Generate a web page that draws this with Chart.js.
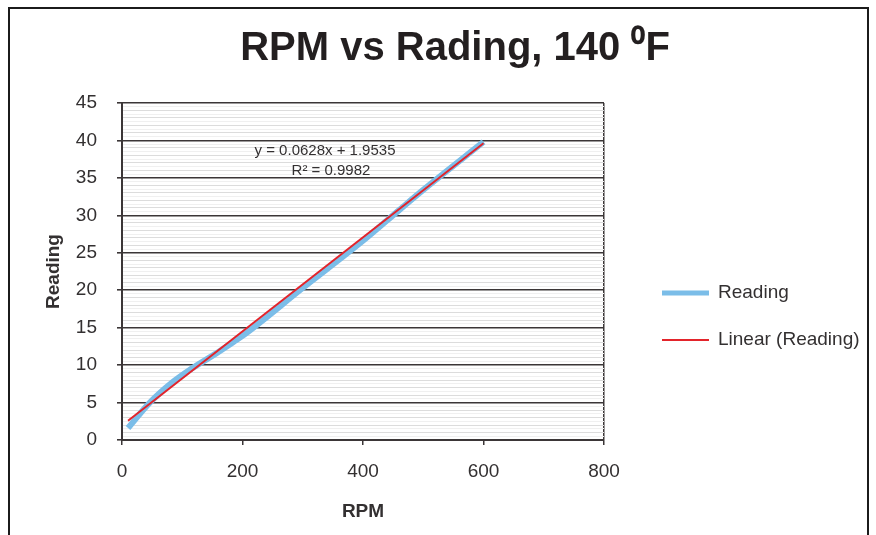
<!DOCTYPE html>
<html>
<head>
<meta charset="utf-8">
<title>RPM vs Reading</title>
<script src="https://cdn.jsdelivr.net/npm/chart.js@4.4.1/dist/chart.umd.min.js"></script>
<style>
  html, body { margin: 0; padding: 0; background: #fff; }
  #wrap { position: relative; width: 876px; height: 535px; overflow: hidden; }
  #frame { position: absolute; left: 8px; top: 7px; width: 857px; height: 600px; border: 2px solid #1b1b1b; pointer-events: none; }
</style>
</head>
<body>
<div id="wrap">
  <canvas id="rpmChart" width="876" height="535"></canvas>
  <div id="frame"></div>
</div>
<script>
// measured readings
var rpm = [10, 45, 82, 115, 155, 185, 200, 300, 400, 460, 500, 600];
var reading = [1.6, 4.9, 7.6, 9.5, 11.5, 13.1, 13.9, 20.3, 26.6, 30.7, 33.4, 39.8];

// linear fit shown on the chart
var trendSlope = 0.0628;
var trendIntercept = 1.9535;
var rSquared = 0.9982;

var seriesLabels = ['Reading', 'Linear (Reading)'];
var xTicks = [0, 200, 400, 600, 800];

var DARK = '#3b3637';
var TEXT = '#333031';
var FONT = "'Liberation Sans', Arial, sans-serif";

var readingPoints = rpm.map(function (x, i) { return { x: x, y: reading[i] }; });
var xFirst = rpm[0], xLast = rpm[rpm.length - 1];
var trendPoints = [
    { x: xFirst, y: trendSlope * xFirst + trendIntercept },
    { x: xLast, y: trendSlope * xLast + trendIntercept }
];

function isMajor(v) { return Math.abs(v / 5 - Math.round(v / 5)) < 1e-6; }
function isWhole(v) { return Math.abs(v - Math.round(v)) < 1e-6; }

// legend on the right plus the fit equation inside the plot
var extrasPlugin = {
    id: 'extras',
    afterLayout: function (chart) {
        // heading is centred over the whole frame, not just the plot side
        chart.titleBlock.left = 34;
        chart.titleBlock.right = chart.width;
    },
    afterDraw: function (chart) {
        var ctx = chart.ctx;
        var area = chart.chartArea;
        ctx.save();

        // equation + R²
        ctx.fillStyle = TEXT;
        ctx.font = '15px ' + FONT;
        ctx.textAlign = 'center';
        ctx.textBaseline = 'middle';
        ctx.fillText('y = ' + trendSlope + 'x + ' + trendIntercept, area.left + 203, area.top + 48);
        ctx.fillText('R\u00B2 = ' + rSquared, area.left + 209, area.top + 68);

        // legend
        var rows = [293, 340];
        chart.data.datasets.forEach(function (ds, i) {
            var y = rows[i];
            ctx.strokeStyle = ds.borderColor;
            ctx.lineWidth = ds.borderWidth === 6 ? 5 : ds.borderWidth;
            ctx.beginPath();
            ctx.moveTo(662, y);
            ctx.lineTo(709, y);
            ctx.stroke();
            ctx.fillStyle = TEXT;
            ctx.font = '19px ' + FONT;
            ctx.textAlign = 'left';
            ctx.fillText(ds.label, 718, y);
        });
        ctx.restore();
    }
};

var ctx = document.getElementById('rpmChart').getContext('2d');
var rpmChart = new Chart(ctx, {
    type: 'line',
    data: {
        datasets: [{
            label: seriesLabels[0],
            data: readingPoints,
            borderColor: '#7bbde8',
            borderWidth: 6,
            borderCapStyle: 'butt',
            borderJoinStyle: 'round',
            cubicInterpolationMode: 'monotone',
            pointRadius: 0,
            order: 1
        }, {
            label: seriesLabels[1],
            data: trendPoints,
            borderColor: '#e3242b',
            borderWidth: 2,
            pointRadius: 0,
            order: 0
        }]
    },
    options: {
        responsive: false,
        animation: false,
        layout: {
            padding: { left: 0, right: 272, top: 0, bottom: 0 }
        },
        plugins: {
            legend: { display: false },
            tooltip: { enabled: false },
            title: {
                display: true,
                text: 'RPM vs Rading, 140 \u2070F',
                color: '#231f20',
                font: { family: FONT, size: 40, weight: 'bold' },
                padding: { top: 25, bottom: 30 }
            }
        },
        scales: {
            x: {
                type: 'linear',
                min: 0,
                max: 800,
                afterFit: function (scale) { scale.height = 95; },
                afterBuildTicks: function (scale) {
                    scale.ticks = xTicks.map(function (v) { return { value: v }; });
                },
                ticks: {
                    color: TEXT,
                    padding: 15,
                    font: { family: FONT, size: 19 },
                    maxRotation: 0
                },
                grid: {
                    color: function (c) { return c.tick && c.tick.value === 800 ? DARK : 'rgba(0,0,0,0)'; },
                    lineWidth: 1.5,
                    tickLength: 5,
                    tickColor: DARK
                },
                border: { color: DARK, width: 2 },
                title: {
                    display: true,
                    text: 'RPM',
                    color: TEXT,
                    font: { family: FONT, size: 19, weight: 'bold' },
                    padding: { top: 0, bottom: 12 }
                }
            },
            y: {
                min: 0,
                max: 45,
                afterFit: function (scale) { scale.width = 122; },
                ticks: {
                    stepSize: 0.5,
                    autoSkip: false,
                    color: TEXT,
                    padding: 20,
                    font: { family: FONT, size: 19 },
                    callback: function (v) { return isMajor(v) ? v : ''; }
                },
                grid: {
                    color: function (c) {
                        var v = c.tick ? c.tick.value : 0;
                        if (isMajor(v)) return DARK;
                        return isWhole(v) ? '#dcdcdc' : '#f0f0f0';
                    },
                    lineWidth: function (c) {
                        var v = c.tick ? c.tick.value : 0;
                        return isMajor(v) ? 1.6 : 1;
                    },
                    tickLength: 5,
                    tickColor: function (c) {
                        var v = c.tick ? c.tick.value : 0;
                        return isMajor(v) ? DARK : 'rgba(0,0,0,0)';
                    }
                },
                border: { color: DARK, width: 2 },
                title: {
                    display: true,
                    text: 'Reading',
                    color: TEXT,
                    font: { family: FONT, size: 19, weight: 'bold' },
                    padding: { top: 42, bottom: 0 }
                }
            }
        }
    },
    plugins: [extrasPlugin]
});
</script>
</body>
</html>
